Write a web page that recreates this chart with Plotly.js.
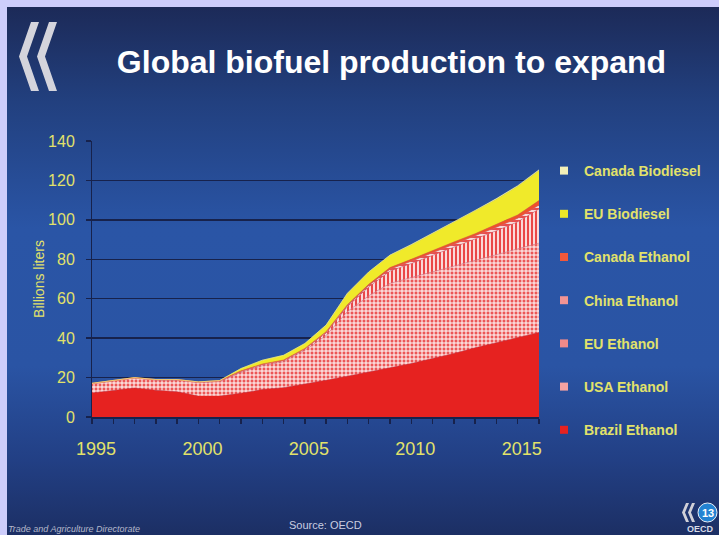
<!DOCTYPE html>
<html>
<head>
<meta charset="utf-8">
<script src="https://cdn.plot.ly/plotly-3.0.1.min.js"></script>
<style>
  html, body { margin: 0; padding: 0; background: #cdcdfb; }
  #chart {
    width: 719px; height: 535px;
    background:
      linear-gradient(180deg, #1c2a58 0%, #22407f 18%, #2a55a6 42%, #2a54a4 68%, #223f84 86%, #1c2f64 100%) 7px 7px / 712px 528px no-repeat,
      #cdcdfb;
  }
</style>
</head>
<body>
<div id="chart"></div>
<script>
// ---- data (billions of litres) ----
const years = [1995,1996,1997,1998,1999,2000,2001,2002,2003,2004,2005,2006,2007,2008,2009,2010,2011,2012,2013,2014,2015,2016];
const brazilEthanol   = [12.2,13.6,14.7,13.6,12.8,10.6,10.6,12.0,13.9,14.9,16.6,18.6,20.7,22.9,25.0,27.1,29.7,32.2,35.1,37.6,40.3,42.9];
const usaEthanol      = [4.6,4.7,5.0,5.1,5.9,6.8,7.3,10.6,12.1,13.1,17.2,22.8,32.8,38.6,42.8,43.6,43.9,44.3,44.3,44.8,45.0,45.3];
const euEthanol       = [0.1,0.1,0.1,0.1,0.1,0.2,0.3,0.4,0.5,0.5,0.6,1.2,2.5,4.5,6.2,7.1,8.4,9.5,10.6,12.1,13.7,17.3];
const chinaEthanol    = [0.1,0.1,0.1,0.1,0.1,0.1,0.2,0.2,0.2,0.2,0.2,0.4,0.5,0.7,1.0,1.2,1.3,1.5,1.6,1.7,1.8,2.0];
const canadaEthanol   = [0.1,0.1,0.1,0.1,0.1,0.1,0.1,0.2,0.2,0.2,0.2,0.3,0.5,0.6,0.8,1.0,1.2,1.3,1.4,1.5,1.7,2.3];
const euBiodiesel     = [0,0,0,0,0,0,0,1.2,1.9,2.4,2.5,3.3,5.7,6.2,6.2,7.3,8.5,9.9,11.5,12.8,14.5,15.2];
const canadaBiodiesel = [0,0,0,0,0,0,0,0,0,0,0,0.05,0.1,0.1,0.15,0.2,0.2,0.25,0.3,0.3,0.35,0.4];

const seriesNames = ['Brazil Ethanol','USA Ethanol','EU Ethanol','China Ethanol','Canada Ethanol','EU Biodiesel','Canada Biodiesel'];
const tickYears  = [1995,2000,2005,2010,2015];
const tickLabels = ['1995','2000','2005','2010','2015'];
const yTitle = 'Billions liters';
const chartTitle = 'Global biofuel production to expand';

// ---- layout helpers (pixel -> paper) ----
const W = 719, H = 535;
const M = {l: 92, r: 180, t: 141, b: 118, autoexpand: false};
const pw = W - M.l - M.r, ph = H - M.t - M.b;
const px = x => (x - M.l) / pw;
const py = y => (H - M.b - y) / ph;

const yellowText = '#e2e26a';
const dark = '#17224c';

const seriesValues = [brazilEthanol, usaEthanol, euEthanol, chinaEthanol, canadaEthanol, euBiodiesel, canadaBiodiesel];
const styles = [
  {fill: '#e62220', line: '#e62220'},
  {fill: '#ef6a6a', line: '#f08080', pattern: {shape: '+', bgcolor: '#ec5656', fgcolor: '#ffffff', size: 4, solidity: 0.45}},
  {fill: '#ee5c5c', line: '#ee6a6a', pattern: {shape: '|', bgcolor: '#ea4848', fgcolor: '#ffffff', size: 4, solidity: 0.4}},
  {fill: '#ee6a6a', line: '#ee7070', pattern: {shape: '-', bgcolor: '#ea4c4c', fgcolor: '#ffffff', size: 4, solidity: 0.4}},
  {fill: '#f0502c', line: '#f0502c'},
  {fill: '#f0ea2a', line: '#f0ea2a'},
  {fill: '#f6f2b4', line: '#f6f2b4'}
];
const legendColors = ['#e62220','#f4a2a2','#f08a8a','#f29494','#f0583a','#ece628','#f4f0b8'];

const traces = [];
seriesValues.forEach((vals, i) => {
  const t = {
    type: 'scatter', mode: 'lines', x: years, y: vals, name: seriesNames[i],
    stackgroup: 'one', line: {width: 0.5, color: styles[i].line, shape: 'linear'},
    fillcolor: styles[i].fill, showlegend: false, hoverinfo: 'x+y+name'
  };
  if (styles[i].pattern) t.fillpattern = styles[i].pattern;
  traces.push(t);
});
// legend entries (top to bottom: reverse stacking order)
for (let i = seriesValues.length - 1; i >= 0; i--) {
  traces.push({
    type: 'scatter', mode: 'markers', x: [1990], y: [-10], name: seriesNames[i],
    legendgroup: 'g' + i, showlegend: true, cliponaxis: true, hoverinfo: 'skip',
    marker: {symbol: 'square', size: 8, color: legendColors[i], line: {width: 0}}
  });
}

function chevron(x0, yTop, yBot, w, depth) {
  const ym = (yTop + yBot) / 2;
  const pts = [[x0 + depth, yTop], [x0 + depth + w, yTop], [x0 + w, ym], [x0 + depth + w, yBot], [x0 + depth, yBot], [x0, ym]];
  return 'M' + pts.map(p => px(p[0]).toFixed(5) + ',' + py(p[1]).toFixed(5)).join(' L') + ' Z';
}

const shapes = [
  {type: 'path', xref: 'paper', yref: 'paper', path: chevron(19, 22, 91, 8, 12), fillcolor: '#d4d4dc', line: {width: 0}, layer: 'above'},
  {type: 'path', xref: 'paper', yref: 'paper', path: chevron(37, 22, 91, 8, 12), fillcolor: '#d4d4dc', line: {width: 0}, layer: 'above'},
  {type: 'path', xref: 'paper', yref: 'paper', path: chevron(682, 503, 522, 3, 4), fillcolor: '#d0d0d8', line: {width: 0}, layer: 'above'},
  {type: 'path', xref: 'paper', yref: 'paper', path: chevron(688, 503, 522, 3, 4), fillcolor: '#d0d0d8', line: {width: 0}, layer: 'above'},
  {type: 'circle', xref: 'paper', yref: 'paper', x0: px(698), x1: px(717), y0: py(503), y1: py(522), fillcolor: '#2383d2', line: {color: '#e8eef8', width: 1}, layer: 'above'}
];

const annotations = [
  {text: 'Source: OECD', xref: 'paper', yref: 'paper', x: px(325), y: py(525), xanchor: 'center', yanchor: 'middle', showarrow: false,
   font: {family: 'Liberation Sans, Arial, sans-serif', size: 11, color: '#c9cde0'}},
  {text: '<i>Trade and Agriculture Directorate</i>', xref: 'paper', yref: 'paper', x: px(6), y: py(529), xanchor: 'left', yanchor: 'middle', showarrow: false,
   font: {family: 'Liberation Sans, Arial, sans-serif', size: 9, color: '#b4b8ca'}},
  {text: '<b>13</b>', xref: 'paper', yref: 'paper', x: px(707.5), y: py(512.5), xanchor: 'center', yanchor: 'middle', showarrow: false,
   font: {family: 'Liberation Sans, Arial, sans-serif', size: 11, color: '#ffffff'}},
  {text: '<b>OECD</b>', xref: 'paper', yref: 'paper', x: px(700), y: py(528.5), xanchor: 'center', yanchor: 'middle', showarrow: false,
   font: {family: 'Liberation Sans, Arial, sans-serif', size: 9, color: '#d8dce8'}}
];

const layout = {
  width: W, height: H, margin: M,
  paper_bgcolor: 'rgba(0,0,0,0)', plot_bgcolor: 'rgba(0,0,0,0)',
  font: {family: 'Liberation Sans, Arial, sans-serif', color: yellowText},
  title: {text: '<b>' + chartTitle + '</b>', xref: 'container', yref: 'container', x: 391.5 / W, y: 1 - 62 / H,
          xanchor: 'center', yanchor: 'middle', font: {family: 'Liberation Sans, Arial, sans-serif', size: 32, color: '#ffffff'}},
  xaxis: {
    range: [1995, 2016], tickmode: 'array', tickvals: tickYears, ticktext: tickLabels,
    ticks: 'outside', ticklen: 5, tickwidth: 1.5, tickcolor: dark,
    minor: {tickmode: 'linear', tick0: 1995, dtick: 1, ticks: 'outside', ticklen: 5, tickwidth: 1.5, tickcolor: dark, showgrid: false},
    showgrid: false, zeroline: false, showline: true, linecolor: dark, linewidth: 1.5,
    tickfont: {size: 18, color: yellowText}, ticklabelstandoff: 10, ticklabelshift: 4, fixedrange: true
  },
  yaxis: {
    range: [0, 140], dtick: 20, tick0: 0, ticks: 'outside', ticklen: 5, tickwidth: 1.5, tickcolor: dark,
    showgrid: true, gridcolor: dark, gridwidth: 1.5, zeroline: false, showline: true, linecolor: dark, linewidth: 1,
    tickfont: {size: 16, color: yellowText}, ticklabelstandoff: 8,
    title: {text: yTitle, standoff: 0, font: {size: 14, color: yellowText}}, fixedrange: true
  },
  legend: {
    xref: 'container', yref: 'container', x: 544 / W, xanchor: 'left', y: 1 - 155 / H, yanchor: 'top', maxheight: 1,
    bgcolor: 'rgba(0,0,0,0)', borderwidth: 0, tracegroupgap: 22, itemclick: false, itemdoubleclick: false,
    font: {family: 'Liberation Sans, Arial, sans-serif', size: 14, weight: 'bold', color: yellowText}
  },
  shapes: shapes,
  annotations: annotations,
  hovermode: false
};

Plotly.newPlot('chart', traces, layout, {displayModeBar: false, staticPlot: true});
</script>
</body>
</html>
